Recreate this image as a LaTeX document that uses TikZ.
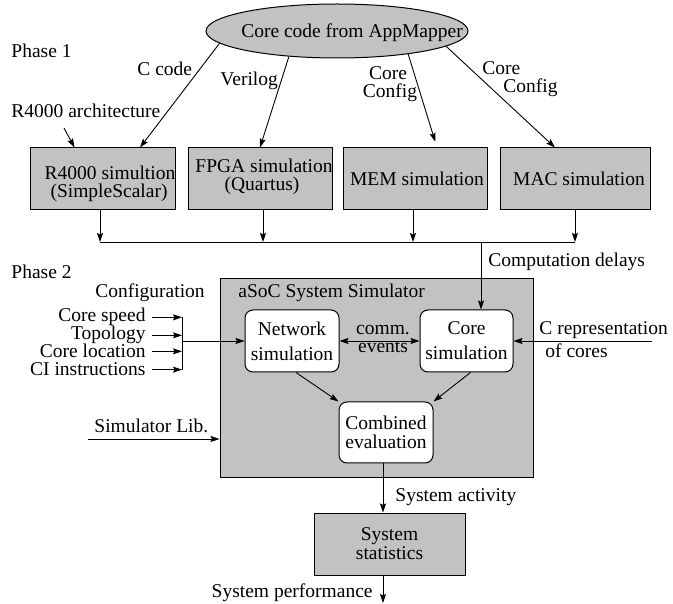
\documentclass[tikz,border=0pt]{standalone}
\usepackage{fontspec}
\setmainfont{Liberation Serif}
\usetikzlibrary{arrows.meta,shapes.geometric}
\definecolor{boxgray}{gray}{0.76}
\begin{document}
\begin{tikzpicture}[x=1pt,y=-1pt,
  font=\fontsize{19.5}{19}\selectfont,
  line width=0.9pt,
  >={Stealth[length=9pt,width=6pt,inset=1.5pt]},
  graybox/.style={draw, fill=boxgray, rectangle, inner sep=0pt, line width=1pt},
  simbox/.style={draw, fill=white, rounded corners=8pt, inner sep=0pt, align=center,
                 minimum height=62pt, line width=1pt},
  lbl/.style={inner sep=0pt},
]
\useasboundingbox (0,0) rectangle (673,604);

% ---------- Phase 1 ----------
\node[lbl, anchor=base west] (ph1) at (11,58) {Phase 1};
\node[graybox, ellipse, minimum width=262pt, minimum height=54pt] (src) at (337,31) {};
\node[lbl, anchor=base] (srctext) at (352,38) {Core code from AppMapper};

\node[graybox, minimum width=145pt, minimum height=62pt] (b1) at (102.5,179) {};
\node[lbl, anchor=base] (b1a) at (110,180) {R4000 simultion};
\node[lbl, anchor=base] (b1b) at (109,198) {(SimpleScalar)};
\node[graybox, minimum width=144pt, minimum height=62pt] (b2) at (260,179) {};
\node[lbl, anchor=base] (b2a) at (264,173) {FPGA simulation};
\node[lbl, anchor=base] (b2b) at (262,191) {(Quartus)};
\node[graybox, minimum width=144pt, minimum height=62pt] (b3) at (415,179) {};
\node[lbl, anchor=base] (b3a) at (417,186) {MEM simulation};
\node[graybox, minimum width=150pt, minimum height=62pt] (b4) at (575,179) {};
\node[lbl, anchor=base] (b4a) at (579,186) {MAC simulation};

% inputs of the simulators
\node[lbl, anchor=base west] (ccode) at (137,76) {C code};
\node[lbl, anchor=base west] (verilog) at (220,86) {Verilog};
\node[lbl, anchor=base] (memcore) at (388,80) {Core};
\node[lbl, anchor=base] (memcfg) at (390,98) {Config};
\node[lbl, anchor=base west] (maccore) at (482,75) {Core};
\node[lbl, anchor=base west] (maccfg) at (503,93) {Config};
\node[lbl, anchor=base west] (arch) at (11,118) {R4000 architecture};
\coordinate (archtail) at (64,128);

\draw[->] (src.186) -- ([xshift=37.5pt]b1.north);
\draw[->] (src.208) -- (b2.north);
\draw[->, shorten >=6pt] (src.342) -- ([xshift=22pt]b3.north);
\draw[->] (src.352.5) -- ([xshift=-20pt]b4.north);
\draw[->] (archtail) -- ([xshift=-28pt]b1.north);

% collecting bus
\coordinate (j1) at (100,242);
\coordinate (j2) at (263,242);
\coordinate (j3) at (413,242);
\coordinate (j4) at (575,242);
\coordinate (j5) at (481,242);
\draw[->] (b1.south -| j1) -- (j1);
\draw[->] (b2.south -| j2) -- (j2);
\draw[->] (b3.south -| j3) -- (j3);
\draw[->] (b4.south -| j4) -- (j4);
\draw (j1) -- (j4);
\node[lbl, anchor=base west] (delays) at (488,267) {Computation delays};

% ---------- Phase 2 ----------
\node[lbl, anchor=base west] (ph2) at (11,279) {Phase 2};
\node[graybox, minimum width=313pt, minimum height=198pt] (asoc) at (376.5,378) {};
\node[lbl, anchor=base west] (asoctext) at (238,298) {aSoC System Simulator};
\node[lbl, anchor=base] (config) at (150,298) {Configuration};

\node[simbox, minimum width=94pt] (net) at (292,341) {Network\\[6pt]simulation};
\node[simbox, minimum width=93pt] (core) at (466.5,341) {Core\\[6pt]simulation};
\node[simbox, minimum width=94pt, minimum height=61pt] (comb) at (386,432.5) {Combined\\evaluation};

\draw[->] (j5) -- (core.north -| j5);

% configuration inputs
\node[lbl, anchor=base east] (cs) at (146,322) {Core speed};
\node[lbl, anchor=base east] (tp) at (146,340) {Topology};
\node[lbl, anchor=base east] (cl) at (146,358) {Core location};
\node[lbl, anchor=base east] (ci) at (146,376) {CI instructions};
\coordinate (bar) at (182,0);
\foreach \n in {cs,tp,cl,ci}
  \draw[->] ([xshift=6pt]\n.east) -- (\n.east -| bar);
\draw (cs.east -| bar) -- (ci.east -| bar);
\draw[->] (bar |- net.west) -- (net.west);

% communication between the simulators
\draw[<->] (net.east) -- (core.west);
\node[lbl, anchor=base] (comm) at (383,335) {comm.};
\node[lbl, anchor=base] (events) at (383,353) {events};

\node[lbl, anchor=base west] (crep) at (539,335) {C representation};
\node[lbl, anchor=base west] (ofcores) at (545,358) {of cores};
\coordinate (creptail) at (652,341);
\draw[->] (creptail) -- (core.east);

\draw[->] ([xshift=4pt]net.south) -- (comb.north west);
\draw[->] ([xshift=4pt]core.south) -- (comb.north east);

\node[lbl, anchor=base west] (slib) at (94,433) {Simulator Lib.};
\coordinate (slibtail) at (88,439);
\draw[->] (slibtail) -- (slibtail -| asoc.west);

% ---------- results ----------
\node[graybox, align=center, minimum width=151pt, minimum height=62pt] (stats) at (389.5,544) {System\\statistics};
\draw[->] ([xshift=-3pt]comb.south) -- ([xshift=-3pt]comb.south |- stats.north);
\node[lbl, anchor=base west] (activity) at (395,501) {System activity};
\coordinate (perfend) at (383,603);
\draw[->] (stats.south -| perfend) -- (perfend);
\node[lbl, anchor=base east] (perf) at (373,597) {System performance};
\end{tikzpicture}
\end{document}
